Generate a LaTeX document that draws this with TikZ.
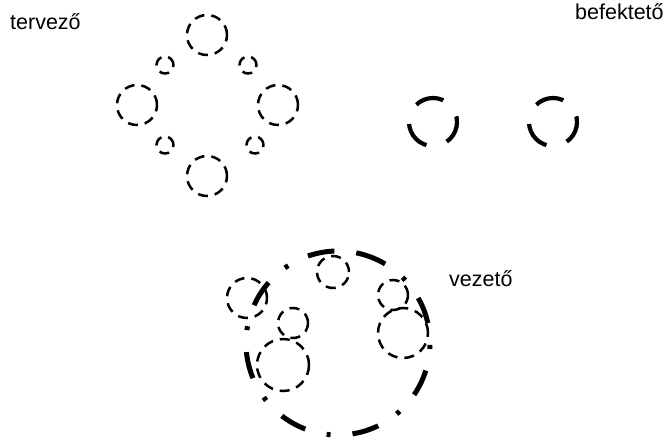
\documentclass[tikz,border=0pt]{standalone}
\usepackage{fontspec}
\setmainfont{Liberation Sans}
\begin{document}
\begin{tikzpicture}[x=1pt,y=-1pt,
  thinc/.style={circle,draw,inner sep=0pt,line width=2.5pt,dash pattern=on 10pt off 7pt},
  thickc/.style={circle,draw,inner sep=0pt,line width=4.2pt,dash pattern=on 29pt off 21.3pt,dash phase=23.3pt},
  bigline/.style={line width=5pt,dash pattern=on 27pt off 22pt on 4pt off 22pt},
  lbl/.style={font=\fontsize{21.5}{26}\selectfont,inner sep=0pt}]
\useasboundingbox (0,0) rectangle (670,437);
% planner group
\node[thinc,minimum size=40pt] (t1) at (207,35) {};
\node[thinc,minimum size=40pt] (t2) at (137,105) {};
\node[thinc,minimum size=40pt] (t3) at (278,105) {};
\node[thinc,minimum size=40pt] (t4) at (207,176) {};
\node[thinc,minimum size=17pt] (s1) at (165,65) {};
\node[thinc,minimum size=17pt] (s2) at (248,65) {};
\node[thinc,minimum size=17pt] (s3) at (165,145) {};
\node[thinc,minimum size=17pt] (s4) at (255,145) {};
% investor group
\node[thickc,minimum size=48pt] (i1) at (433,122) {};
\node[thickc,minimum size=48pt] (i2) at (553,122) {};
% leader group
\coordinate (bc) at (338,343);
\draw[bigline] ([shift={(-76:92)}]bc) arc[start angle=-76, end angle=284, radius=92];
\node[thinc,minimum size=40pt] (v1) at (247,298) {};
\node[thinc,minimum size=32pt] (v2) at (333,272) {};
\node[thinc,minimum size=30pt] (v3) at (393,295) {};
\node[thinc,minimum size=50pt] (v4) at (403,333) {};
\node[thinc,minimum size=30pt] (v5) at (293,323) {};
\node[thinc,minimum size=52pt] (v6) at (283,365) {};
% labels
\node[lbl,anchor=base west] (lt) at (10,29) {tervező};
\node[lbl,anchor=base west] (lb) at (575,19) {befektető};
\node[lbl,anchor=base west] (lv) at (449,286) {vezető};
\end{tikzpicture}
\end{document}
